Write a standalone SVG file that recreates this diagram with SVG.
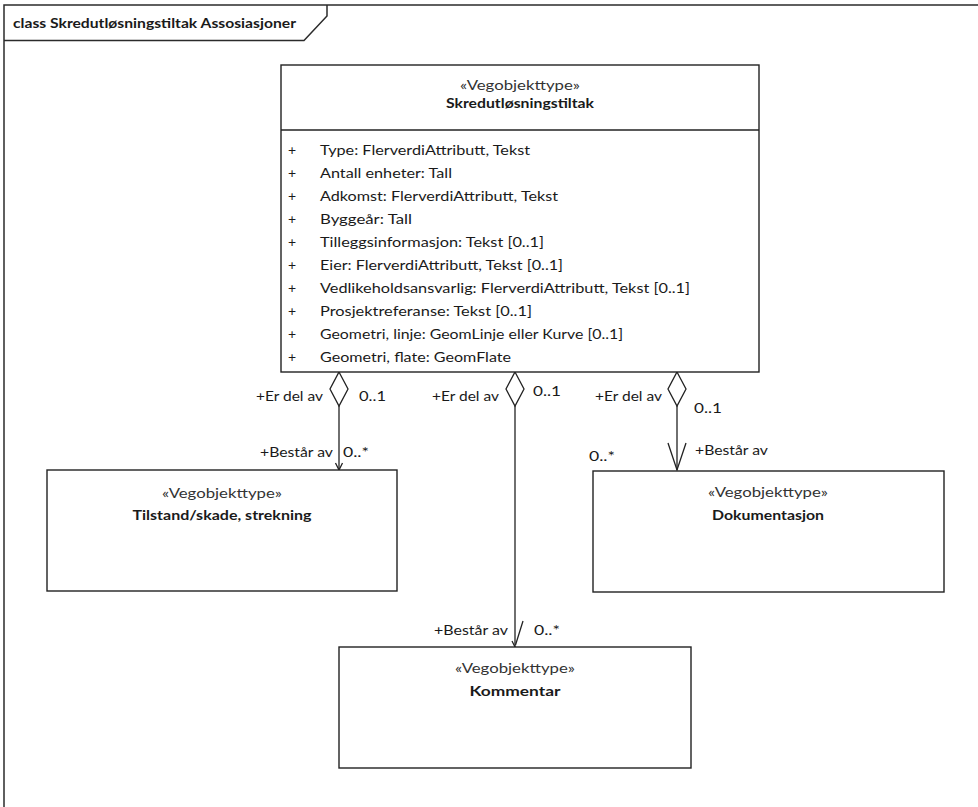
<svg xmlns="http://www.w3.org/2000/svg" width="978" height="807" viewBox="0 0 978 807">
<style>
.frame{fill:none;stroke:#2b2b2b;stroke-width:1.5}
.box{fill:#fff;stroke:#222;stroke-width:1.4}
.ln{fill:none;stroke:#222;stroke-width:1.3}
.dia{fill:#fff;stroke:#222;stroke-width:1.3}
text{font-family:Lato,"Liberation Sans",sans-serif;font-size:14px;fill:#1a1a1a}
.st{fill:#333}
.b{font-weight:bold}
.c{text-anchor:middle}
.e{text-anchor:end}
</style>
<rect width="978" height="807" fill="#fff"/>
<g id="frame">
<rect class="frame" x="4" y="5" width="1000" height="900"/>
<path class="frame" d="M4,40.5 H304 L327,16 V5"/>
<text class="b" x="13" y="28" textLength="283" lengthAdjust="spacingAndGlyphs">class Skredutløsningstiltak Assosiasjoner</text>
</g>
<g id="connectors">
<line class="ln" x1="339" y1="406" x2="339" y2="470"/>
<polyline class="ln" points="335.5,463 339,470 342.5,463"/>
<polygon class="dia" points="339,372 348,389 339,406 330,389"/>
<text class="e" x="323" y="401" textLength="67" lengthAdjust="spacingAndGlyphs">+Er del av</text>
<text x="359" y="401" textLength="27" lengthAdjust="spacingAndGlyphs">0..1</text>
<text class="e" x="333" y="457" textLength="73" lengthAdjust="spacingAndGlyphs">+Består av</text>
<text x="343" y="457" textLength="26" lengthAdjust="spacingAndGlyphs">0..*</text>

<line class="ln" x1="515" y1="406" x2="515" y2="647"/>
<polyline class="ln" points="512,641 515,647"/>
<line class="ln" x1="523" y1="621" x2="515.5" y2="645"/>
<polygon class="dia" points="515,372 524,389 515,406 506,389"/>
<text class="e" x="499" y="401" textLength="67" lengthAdjust="spacingAndGlyphs">+Er del av</text>
<text x="533" y="396" textLength="28" lengthAdjust="spacingAndGlyphs">0..1</text>
<text class="e" x="508" y="635" textLength="74" lengthAdjust="spacingAndGlyphs">+Består av</text>
<text x="534" y="635" textLength="26" lengthAdjust="spacingAndGlyphs">0..*</text>

<line class="ln" x1="677" y1="406" x2="677" y2="470"/>
<polyline class="ln" points="668,443 677,470 686,443"/>
<polygon class="dia" points="677,372 686,389 677,406 668,389"/>
<text class="e" x="662" y="401" textLength="67" lengthAdjust="spacingAndGlyphs">+Er del av</text>
<text x="694" y="413" textLength="28" lengthAdjust="spacingAndGlyphs">0..1</text>
<text x="695" y="455" textLength="73" lengthAdjust="spacingAndGlyphs">+Består av</text>
<text x="589" y="461" textLength="26" lengthAdjust="spacingAndGlyphs">0..*</text>
</g>
<g id="skredutlosningstiltak">
<rect class="box" x="281" y="65" width="478" height="307"/>
<line class="ln" x1="281" y1="130" x2="759" y2="130"/>
<text class="c st" x="520" y="90" textLength="120" lengthAdjust="spacingAndGlyphs">«Vegobjekttype»</text>
<text class="c b" x="520" y="108" textLength="148" lengthAdjust="spacingAndGlyphs">Skredutløsningstiltak</text>
<g>
<text x="288" y="155">+</text><text x="320" y="155" textLength="210" lengthAdjust="spacingAndGlyphs">Type: FlerverdiAttributt, Tekst</text>
<text x="288" y="178">+</text><text x="320" y="178" textLength="132" lengthAdjust="spacingAndGlyphs">Antall enheter: Tall</text>
<text x="288" y="201">+</text><text x="320" y="201" textLength="238" lengthAdjust="spacingAndGlyphs">Adkomst: FlerverdiAttributt, Tekst</text>
<text x="288" y="224">+</text><text x="320" y="224" textLength="92" lengthAdjust="spacingAndGlyphs">Byggeår: Tall</text>
<text x="288" y="247">+</text><text x="320" y="247" textLength="224" lengthAdjust="spacingAndGlyphs">Tilleggsinformasjon: Tekst [0..1]</text>
<text x="288" y="270">+</text><text x="320" y="270" textLength="243" lengthAdjust="spacingAndGlyphs">Eier: FlerverdiAttributt, Tekst [0..1]</text>
<text x="288" y="293">+</text><text x="320" y="293" textLength="370" lengthAdjust="spacingAndGlyphs">Vedlikeholdsansvarlig: FlerverdiAttributt, Tekst [0..1]</text>
<text x="288" y="316">+</text><text x="320" y="316" textLength="212" lengthAdjust="spacingAndGlyphs">Prosjektreferanse: Tekst [0..1]</text>
<text x="288" y="339">+</text><text x="320" y="339" textLength="303" lengthAdjust="spacingAndGlyphs">Geometri, linje: GeomLinje eller Kurve [0..1]</text>
<text x="288" y="362">+</text><text x="320" y="362" textLength="191" lengthAdjust="spacingAndGlyphs">Geometri, flate: GeomFlate</text>
</g>
</g>
<g id="tilstand">
<rect class="box" x="47" y="470" width="350" height="121"/>
<text class="c st" x="222" y="498" textLength="120" lengthAdjust="spacingAndGlyphs">«Vegobjekttype»</text>
<text class="c b" x="222" y="520" textLength="179" lengthAdjust="spacingAndGlyphs">Tilstand/skade, strekning</text>
</g>
<g id="dokumentasjon">
<rect class="box" x="593" y="471" width="351" height="121"/>
<text class="c st" x="768" y="497" textLength="120" lengthAdjust="spacingAndGlyphs">«Vegobjekttype»</text>
<text class="c b" x="768" y="520" textLength="112" lengthAdjust="spacingAndGlyphs">Dokumentasjon</text>
</g>
<g id="kommentar">
<rect class="box" x="339" y="647" width="352" height="121"/>
<text class="c st" x="515" y="673" textLength="120" lengthAdjust="spacingAndGlyphs">«Vegobjekttype»</text>
<text class="c b" x="515" y="696" textLength="91" lengthAdjust="spacingAndGlyphs">Kommentar</text>
</g>
</svg>
